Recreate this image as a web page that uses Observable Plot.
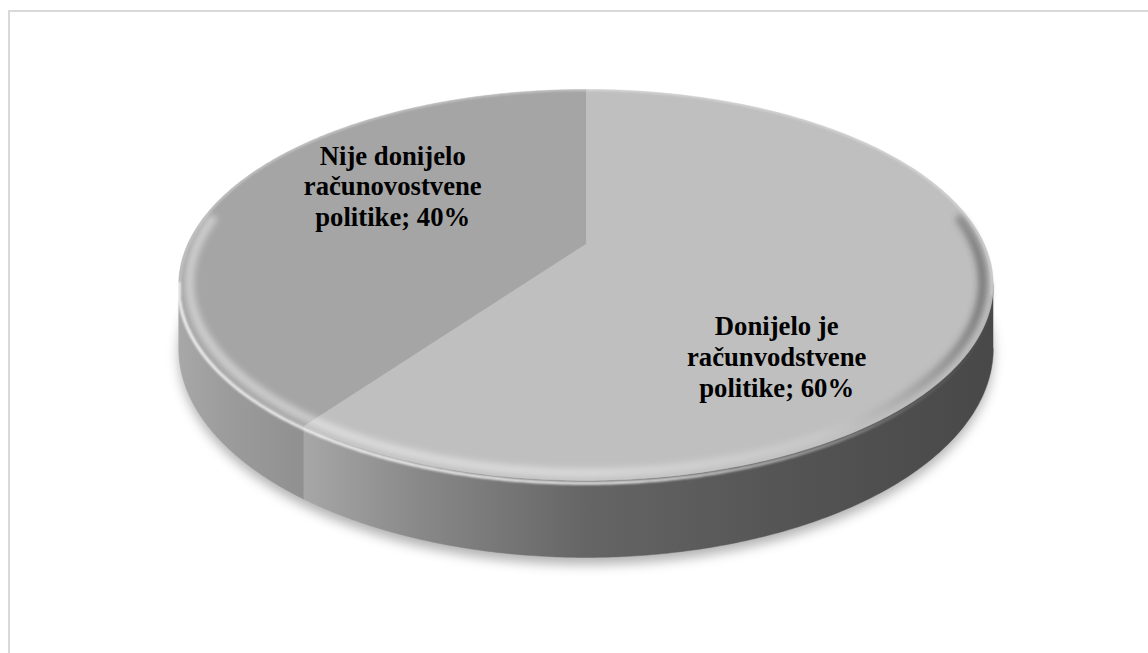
<!DOCTYPE html>
<html>
<head>
<meta charset="utf-8">
<script src="https://cdn.jsdelivr.net/npm/d3@7"></script>
<script src="https://cdn.jsdelivr.net/npm/@observablehq/plot@0.6"></script>
<style>
  html, body { margin: 0; padding: 0; background: #fff; overflow: hidden; }
  #wrap { position: relative; width: 1148px; height: 653px; }
  #frame { position: absolute; left: 8px; top: 10px; width: 1300px; height: 800px; border: 2px solid #d9d9d9; box-sizing: border-box; }
  #chart { position: absolute; left: 0; top: 0; }
</style>
</head>
<body>
<div id="wrap"><div id="frame"></div><div id="chart"></div></div>
<script>
// ---- data ----
const categories = ["Donijelo je računvodstvene politike", "Nije donijelo računovostvene politike"];
const values = [60, 40];
const labels = ["Donijelo je\nračunvodstvene\npolitike; 60%", "Nije donijelo\nračunovostvene\npolitike; 40%"];
const topColors = ["#bfbfbf", "#a5a5a5"];

// ---- 3D projection helpers (unit circle -> projected unit coords) ----
const K = 0.212;       // perspective strength
const DEPTH = 0.325;   // pie thickness in y units
function proj(theta, r, depth) {
  const X = r * Math.sin(theta), Y = -r * Math.cos(theta);
  const w = 1 / (1 - K * Y);
  return {x: X * w, y: (Y + depth) * w};
}
function arcPts(a0, a1, r, depth, n = 240) {
  const pts = [];
  for (let i = 0; i <= n; i++) pts.push(proj(a0 + (a1 - a0) * i / n, r, depth));
  return pts;
}
const sil = Math.acos(-K);            // silhouette angle on the right
const visA0 = sil, visA1 = 2 * Math.PI - sil;

const data = categories.map((c, i) => ({category: c, value: values[i], label: labels[i], color: topColors[i]}));
const arcs = d3.pie().sort(null).value(d => d.value)(data);

const marks = [];
const tag = {};
function add(name, mark) { tag[name] = marks.length; marks.push(mark); }
// shadow
add("shadow", Plot.line(arcPts(0, 2 * Math.PI, 1.0, DEPTH + 0.03), {x: "x", y: "y", fill: "#000", fillOpacity: 0.3}));
// sides
arcs.forEach((a, i) => {
  const s = Math.max(a.startAngle, visA0), e = Math.min(a.endAngle, visA1);
  if (e <= s) return;
  const pts = arcPts(s, e, 1, 0).concat(arcPts(e, s, 1, DEPTH));
  add("side" + i, Plot.line(pts, {x: "x", y: "y", fill: "#777", stroke: "#777", strokeWidth: 0.5}));
});
// seam highlight on the side
arcs.forEach((a, i) => {
  if (a.endAngle > visA0 && a.endAngle < visA1) {
    const p = [proj(a.endAngle, 1, 0.01), proj(a.endAngle, 1, DEPTH)];
    add("seam" + i, Plot.line(p, {x: "x", y: "y", stroke: "#c4c4c4", strokeWidth: 2.5, strokeOpacity: 0.6}));
  }
});
// top faces
arcs.forEach((a, i) => {
  const pts = [{x: 0, y: 0}].concat(arcPts(a.startAngle, a.endAngle, 1, 0));
  add("top" + i, Plot.line(pts, {x: "x", y: "y", fill: a.data.color, stroke: a.data.color, strokeWidth: 0.5}));
});
// bevel on the rim: soft inner band + bright edge line on the front
add("bevel", Plot.line(arcPts(visA0 - 0.35, visA1 + 0.35, 0.975, 0), {x: "x", y: "y", stroke: "#fff", strokeWidth: 9}));
add("edge", Plot.line(arcPts(visA0 - 0.02, visA1 + 0.02, 1, 0.012), {x: "x", y: "y", stroke: "#fff", strokeWidth: 3}));
add("back", Plot.line(arcPts(visA1 - 0.05, visA0 + 2 * Math.PI + 0.05, 0.997, 0), {x: "x", y: "y", stroke: "#fff", strokeWidth: 1.5, strokeOpacity: 0.5}));
// labels
const labelPos = arcs.map(a => {
  const mid = (a.startAngle + a.endAngle) / 2;
  return {...proj(mid, 0.5, 0), label: a.data.label};
});
const textOpts = {x: "x", y: "y", text: "label", fontSize: 26.7, lineHeight: 1.15, fontWeight: "bold", fill: "#000",
  fontFamily: "'Liberation Serif', 'Times New Roman', serif"};
add("label0", Plot.text([labelPos[0]], {...textOpts, dy: 83, dx: -5}));
add("label1", Plot.text([labelPos[1]], {...textOpts, dy: -30, dx: -10}));

const svg = Plot.plot({
  width: 1148,
  height: 653,
  margin: 0,
  x: {domain: [-1, 1], range: [187.5, 983.5], axis: null},
  y: {domain: [-1, 1], range: [56.3, 429.7], axis: null},
  style: {background: "transparent", color: "#000"},
  marks
});

// defs: gradients positioned with the plot's own scales
const X = v => svg.scale("x").apply(v);
const root = d3.select(svg);
const groups = Array.from(svg.children).filter(n => n.tagName.toLowerCase() === "g");
const defs = root.insert("defs", "*");
function lin(id, stops, x1, x2) {
  const g = defs.append("linearGradient").attr("id", id).attr("gradientUnits", "userSpaceOnUse")
    .attr("x1", x1).attr("x2", x2).attr("y1", 0).attr("y2", 0);
  stops.forEach(([o, c, op]) => g.append("stop").attr("offset", o).attr("stop-color", c).attr("stop-opacity", op ?? 1));
}
const xl = X(-1.03), xr = X(1.03);
lin("side0", [[0, "#b0b0b0"], [0.15, "#a8a8a8"], [0.3, "#888888"], [0.5, "#656565"], [0.75, "#545454"], [1, "#484848"]], xl, xr);
lin("side1", [[0, "#a8a8a8"], [0.06, "#9c9c9c"], [0.17, "#8e8e8e"], [0.2, "#8a8a8a"], [1, "#808080"]], xl, xr);
lin("bevel", [[0, "#ffffff", 0.45], [0.5, "#ffffff", 0.4], [0.78, "#ffffff", 0.15], [0.9, "#555555", 0.25], [1, "#333333", 0.55]], xl, xr);
lin("edge", [[0, "#ffffff", 0.85], [0.55, "#ffffff", 0.8], [0.8, "#ffffff", 0.35], [0.95, "#888888", 0.15], [1, "#555555", 0.1]], xl, xr);
const fb = defs.append("filter").attr("id", "blurShadow").attr("x", "-20%").attr("y", "-20%").attr("width", "140%").attr("height", "140%");
fb.append("feGaussianBlur").attr("stdDeviation", 6);
const fr = defs.append("filter").attr("id", "blurRim").attr("x", "-20%").attr("y", "-20%").attr("width", "140%").attr("height", "140%");
fr.append("feGaussianBlur").attr("stdDeviation", 1.2);
const fs = defs.append("filter").attr("id", "blurSoft").attr("x", "-20%").attr("y", "-20%").attr("width", "140%").attr("height", "140%");
fs.append("feGaussianBlur").attr("stdDeviation", 3);

function G(name) { return tag[name] !== undefined ? d3.select(groups[tag[name]]) : d3.select(null); }
function paint(name, fill, stroke) {
  const g = G(name);
  if (fill) { g.attr("fill", fill); g.selectAll("path").attr("fill", fill); }
  if (stroke) { g.attr("stroke", stroke); g.selectAll("path").attr("stroke", stroke); }
}
paint("side0", "url(#side0)", "url(#side0)");
paint("side1", "url(#side1)", "url(#side1)");
paint("bevel", null, "url(#bevel)");
paint("edge", null, "url(#edge)");
G("shadow").attr("filter", "url(#blurShadow)");
G("bevel").attr("filter", "url(#blurSoft)");
["edge", "back", "seam0", "seam1"].forEach(n => G(n).attr("filter", "url(#blurRim)"));

document.getElementById("chart").appendChild(svg);
</script>
</body>
</html>
